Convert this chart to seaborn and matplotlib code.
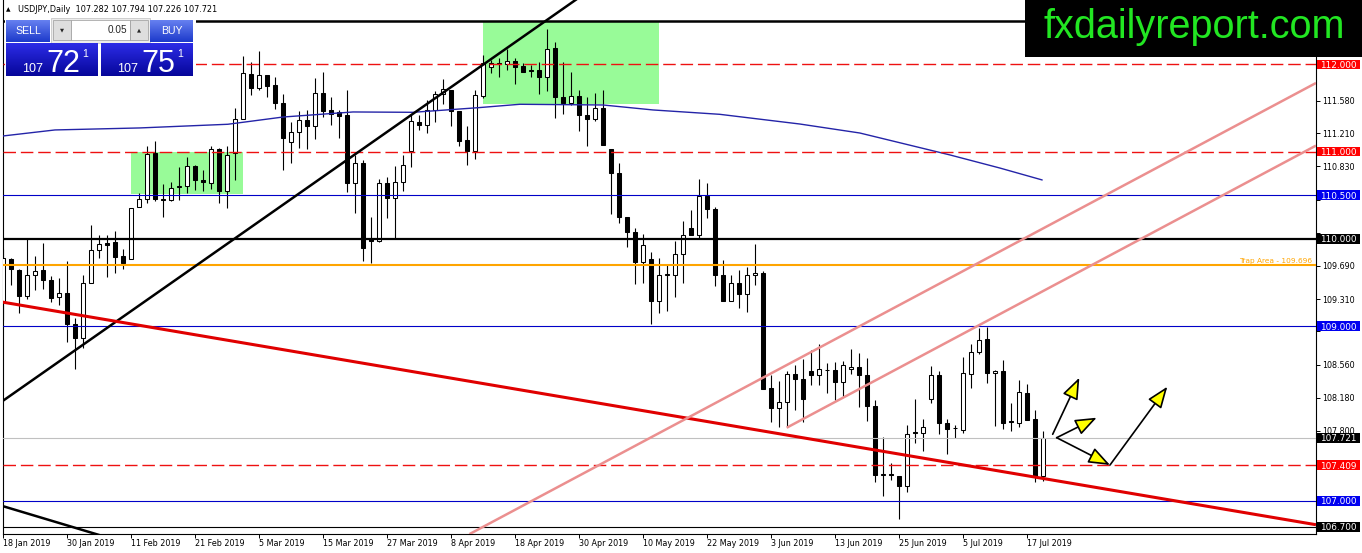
import numpy as np
import pandas as pd
import matplotlib
matplotlib.use("Agg")
import matplotlib.pyplot as plt
import seaborn as sns
from matplotlib.patches import Rectangle
from matplotlib.transforms import blended_transform_factory
from matplotlib.colors import to_rgb

# ---------------- data ----------------
opens = [109.28, 109.77, 109.645, 109.35, 109.59, 109.64, 109.53, 109.34, 109.38, 109.03,
         108.87, 109.49, 109.87, 109.95, 109.97, 109.80, 109.77, 110.36, 110.46, 110.98,
         110.46, 110.44, 110.59, 110.61, 110.84, 110.68, 110.64, 111.03, 110.55, 110.98,
         111.37, 111.89, 111.73, 111.88, 111.76, 111.56, 111.11, 111.22, 111.36, 111.29,
         111.67, 111.48, 111.45, 111.42, 110.64, 110.87, 110.01, 109.98, 110.64, 110.47,
         110.65, 111.01, 111.34, 111.31, 111.48, 111.66, 111.71, 111.47, 111.13, 111.01,
         111.64, 111.97, 112.01, 112.00, 112.04, 111.98, 111.93, 111.93, 111.85, 112.19,
         111.62, 111.56, 111.64, 111.42, 111.37, 111.50, 111.03, 110.76, 110.25, 110.08,
         109.73, 109.77, 109.29, 109.59, 109.59, 109.83, 110.13, 110.05, 110.49, 110.34,
         109.59, 109.29, 109.50, 109.37, 109.59, 109.61, 108.29, 108.06, 108.13, 108.45,
         108.39, 108.49, 108.44, 108.50, 108.50, 108.36, 108.51, 108.53, 108.44, 108.09,
         107.30, 107.30, 107.28, 107.17, 107.78, 107.78, 108.17, 108.44, 107.89, 107.83,
         107.81, 108.45, 108.71, 108.85, 108.46, 108.49, 107.91, 107.89, 108.23, 107.94,
         107.282]
highs = [109.89, 109.78, 109.66, 110.00, 109.80, 109.95, 109.57, 109.55, 109.75, 109.09,
         109.59, 110.16, 110.05, 110.05, 110.09, 109.88, 110.35, 110.53, 111.06, 111.12,
         110.63, 110.65, 110.82, 110.94, 110.85, 110.79, 111.06, 111.04, 111.06, 111.50,
         112.09, 112.03, 112.15, 111.88, 111.86, 111.66, 111.34, 111.46, 111.48, 111.84,
         111.91, 111.63, 111.48, 111.71, 110.96, 110.90, 110.25, 110.69, 110.71, 110.84,
         110.96, 111.43, 111.42, 111.59, 111.69, 111.83, 111.71, 111.47, 111.29, 111.71,
         112.11, 112.05, 112.07, 112.18, 112.07, 112.01, 111.99, 112.03, 112.41, 112.26,
         112.03, 111.91, 111.71, 111.63, 111.67, 111.71, 111.03, 110.87, 110.25, 110.12,
         110.06, 109.85, 109.78, 109.71, 109.98, 110.20, 110.33, 110.69, 110.64, 110.37,
         109.76, 109.59, 109.64, 109.68, 109.94, 109.63, 108.44, 108.37, 108.49, 108.56,
         108.62, 108.73, 108.80, 108.58, 108.59, 108.60, 108.74, 108.69, 108.63, 108.15,
         107.73, 107.43, 107.28, 107.87, 108.17, 107.94, 108.54, 108.49, 107.94, 107.87,
         108.65, 108.80, 108.98, 108.99, 108.50, 108.61, 108.12, 108.38, 108.34, 108.04,
         107.794]
lows = [109.07, 109.47, 109.15, 109.31, 109.42, 109.43, 109.28, 109.24, 108.82, 108.51,
        108.75, 109.49, 109.78, 109.56, 109.61, 109.66, 109.77, 110.36, 110.41, 110.43,
        110.25, 110.43, 110.45, 110.53, 110.56, 110.55, 110.57, 110.41, 110.35, 110.67,
        111.37, 111.65, 111.71, 111.62, 111.49, 110.79, 110.87, 111.04, 111.03, 111.15,
        111.40, 111.30, 111.16, 110.54, 110.30, 109.75, 109.72, 109.97, 110.24, 110.01,
        110.55, 110.82, 111.25, 111.21, 111.34, 111.55, 111.29, 111.06, 110.85, 110.92,
        111.61, 111.90, 111.85, 111.93, 111.77, 111.91, 111.85, 111.66, 111.69, 111.39,
        111.43, 111.53, 111.24, 111.06, 111.35, 111.08, 110.29, 110.18, 109.91, 109.48,
        109.49, 109.03, 109.15, 109.17, 109.34, 109.49, 110.04, 110.01, 110.24, 109.46,
        109.29, 109.29, 109.21, 109.16, 109.47, 108.28, 107.90, 107.85, 107.84, 108.04,
        107.90, 108.33, 108.33, 108.23, 108.15, 108.19, 108.45, 108.07, 107.91, 107.22,
        107.06, 107.24, 106.79, 107.10, 107.66, 107.57, 108.12, 107.77, 107.54, 107.72,
        107.78, 108.29, 108.68, 108.35, 107.86, 107.82, 107.80, 107.85, 107.93, 107.22,
        107.226]
closes = [109.78, 109.65, 109.35, 109.59, 109.63, 109.53, 109.32, 109.38, 109.03, 108.87,
          109.49, 109.875, 109.94, 109.93, 109.79, 109.72, 110.35, 110.46, 110.97, 110.46,
          110.44, 110.58, 110.61, 110.83, 110.68, 110.65, 111.03, 110.55, 110.96, 111.37,
          111.90, 111.73, 111.88, 111.75, 111.56, 111.16, 111.23, 111.36, 111.29, 111.67,
          111.47, 111.43, 111.41, 110.64, 110.87, 109.90, 109.98, 110.64, 110.47, 110.65,
          110.85, 111.35, 111.31, 111.48, 111.66, 111.72, 111.47, 111.12, 111.01, 111.65,
          112.02, 112.01, 112.00, 112.04, 111.97, 111.91, 111.92, 111.85, 112.18, 111.62,
          111.56, 111.64, 111.42, 111.37, 111.50, 111.08, 110.76, 110.25, 110.08, 109.74,
          109.93, 109.29, 109.59, 109.60, 109.83, 110.05, 110.05, 110.49, 110.34, 109.59,
          109.29, 109.49, 109.37, 109.59, 109.61, 108.28, 108.06, 108.13, 108.45, 108.39,
          108.17, 108.44, 108.51, 108.50, 108.36, 108.55, 108.53, 108.44, 108.09, 107.30,
          107.31, 107.30, 107.17, 107.77, 107.78, 107.85, 108.44, 107.89, 107.82, 107.83,
          108.46, 108.71, 108.84, 108.46, 108.49, 107.89, 107.90, 108.25, 107.93, 107.28,
          107.721]

# moving average (read at a few bars)
ma_bars = [0, 6.5, 17.1, 28.1, 35.0, 43.75, 51.25, 59.4, 64.6, 75.0, 81.25, 89.6,
           99.6, 107.1, 118.4, 124.6, 129.9]
ma_vals = [111.179, 111.248, 111.271, 111.313, 111.396, 111.454, 111.450, 111.503,
           111.542, 111.534, 111.477, 111.427, 111.316, 111.213, 110.961, 110.812, 110.675]

x_tick_bars = list(range(0, 129, 8))
x_tick_labels = ['18 Jan 2019', '30 Jan 2019', '11 Feb 2019', '21 Feb 2019', '5 Mar 2019',
                 '15 Mar 2019', '27 Mar 2019', '8 Apr 2019', '18 Apr 2019', '30 Apr 2019',
                 '10 May 2019', '22 May 2019', '3 Jun 2019', '13 Jun 2019', '25 Jun 2019',
                 '5 Jul 2019', '17 Jul 2019']
y_ticks = [111.960, 111.580, 111.210, 110.830, 110.450, 110.070, 109.690, 109.310,
           108.940, 108.560, 108.180, 107.800, 107.420, 107.040, 106.670]

# horizontal levels: price, colour, width, style
levels = [112.5, 112.0, 111.0, 110.5, 110.0, 109.696, 109.0, 107.721, 107.409, 107.0, 106.7]
level_colors = ['black', '#ee1111', '#ee1111', '#0000c8', 'black', '#ffa500', '#0000c8',
                '#c0c0c0', '#ee1111', '#0000c8', 'black']
level_widths = [1.8, 1.0, 1.0, 0.8, 1.6, 1.5, 0.8, 0.8, 1.0, 0.8, 0.8]
level_styles = ['-', 'd', 'd', '-', '-', '-', '-', '-', 'd', '-', '-']

box_levels = [112.0, 111.0, 110.5, 110.0, 109.0, 107.721, 107.409, 107.0, 106.7]
box_colors = ['#ff0000', '#ff0000', '#0000f0', 'black', '#0000f0', 'black', '#ff0000',
              '#0000f0', 'black']

zones = [(16.0, 29.96, 110.51, 110.99), (59.96, 82.0, 111.545, 112.496)]

trend_lines = [  # (bar0, price0, bar1, price1, colour, width)
    (-0.0625, 108.142, 75.0, 112.957, 'black', 1.8),
    (-0.0625, 106.940, 14.0, 106.554, 'black', 1.8),
    (-0.0625, 109.276, 164.125, 106.726, '#e00000', 2.2),
    (58.3, 106.618, 164.125, 111.786, '#eb8f8f', 1.8),
    (97.96, 107.837, 164.125, 111.069, '#eb8f8f', 1.8),
]

arrows = [  # (bar0, price0, bar1, price1)
    (131.21, 107.762, 134.54, 108.410),
    (131.71, 107.723, 136.71, 107.952),
    (131.71, 107.723, 138.375, 107.410),
    (138.375, 107.410, 145.54, 108.307),
]

bid, ask = 107.721, 107.751

# ---------------- figure ----------------
sns.set_style("white")
plt.rcParams['font.family'] = ['DejaVu Sans']

fig = plt.figure(figsize=(13.62, 5.53), dpi=100)
fig.patch.set_facecolor('white')
ax = fig.add_axes([2.5 / 1362, 19 / 553, 1313.5 / 1362, 534 / 553])
ax.set_xlim(-0.0625, 164.125)
ax.set_ylim(106.6197, 112.7365)
ax.set_facecolor('white')

for x0, x1, y0, y1 in zones:
    ax.add_patch(Rectangle((x0, y0), x1 - x0, y1 - y0, fc='#98fb98', ec='none', zorder=1))

df = pd.DataFrame({'o': opens, 'h': highs, 'l': lows, 'c': closes})
df['bar'] = np.arange(len(df))
up = df['c'] > df['o']
bottom = np.minimum(df['o'], df['c'])
height = np.maximum(np.abs(df['c'] - df['o']), 0.003)
ax.vlines(df['bar'], df['l'], df['h'], color='black', lw=0.8, zorder=3)
ax.bar(df['bar'], height, bottom=bottom, width=0.56,
       color=np.where(up, 'white', 'black'), edgecolor='black', linewidth=0.75, zorder=3.5)

sns.lineplot(x=ma_bars, y=ma_vals, ax=ax, color='#2424a8', lw=1.0, zorder=4,
             sort=False, estimator=None)

for p, c, w, s in zip(levels, level_colors, level_widths, level_styles):
    ls = (0, (9, 3.5)) if s == 'd' else '-'
    ax.axhline(p, color=c, lw=w, ls=ls, zorder=4.5)

for b0, p0, b1, p1, c, w in trend_lines:
    ax.plot([b0, b1], [p0, p1], color=c, lw=w, zorder=5, solid_capstyle='butt')

for b0, p0, b1, p1 in arrows:
    ax.annotate('', xy=(b1, p1), xytext=(b0, p0),
                arrowprops=dict(arrowstyle='-|>,head_length=1.1,head_width=0.42',
                                mutation_scale=12, fc='#ffff00', ec='black', lw=1.2,
                                shrinkA=0, shrinkB=0), zorder=6)

ax.text(163.6, 109.696 + 0.02, 'Trap Area - 109.696', color='#ffa500', fontsize=5.3,
        ha='right', va='bottom', zorder=6)

# axes / ticks
ax.spines['top'].set_visible(False)
for side in ['left', 'right', 'bottom']:
    ax.spines[side].set_color('black')
    ax.spines[side].set_linewidth(0.8)
ax.yaxis.tick_right()
ax.set_yticks(y_ticks)
# labels that sit (almost) fully under a coloured price box are hidden, as in the reference
ylabels = []
for v in y_ticks:
    hidden = any(abs(v - b) < 0.075 for b in box_levels)
    ylabels.append('' if hidden else f'{v:.3f}')
ax.set_yticklabels(ylabels)
ax.tick_params(axis='y', which='both', right=True, left=False, direction='out',
               length=2.9, width=0.7, pad=1.6, labelsize=5.8, colors='black')
ax.set_xticks(x_tick_bars)
ax.set_xticklabels(x_tick_labels)
ax.tick_params(axis='x', bottom=True, direction='out', length=2.9, width=0.7, pad=1.0,
               labelsize=5.8, colors='black')
for lab in ax.get_xticklabels():
    lab.set_horizontalalignment('left')
ax.set_xlabel('')
ax.set_ylabel('')

trans = blended_transform_factory(ax.transAxes, ax.transData)
for p, bg in zip(box_levels, box_colors):
    ax.add_patch(Rectangle((1.00114, p - 0.0545), 0.03236, 0.109, transform=trans, fc=bg,
                           ec='none', clip_on=False, zorder=20))
    ax.text(1.0028, p, f'{p:.3f}', transform=trans, color='white', fontsize=6.4,
            va='center_baseline', ha='left', clip_on=False, zorder=21)

# ---------------- overlay (pixel coordinates) ----------------
ov = fig.add_axes([0, 0, 1, 1], zorder=10)
ov.patch.set_alpha(0)
ov.axis('off')


def grad_box(x0, y0, x1, y1, c_top, c_bot):
    g = np.linspace(0, 1, 32)[:, None, None]
    ct = np.array(to_rgb(c_top))[None, None, :]
    cb = np.array(to_rgb(c_bot))[None, None, :]
    img = ct * (1 - g) + cb * g
    img = np.repeat(img, 2, axis=1)
    ov.imshow(img, extent=[x0, x1, y1, y0], aspect='auto', interpolation='bilinear', zorder=3)


title = f'USDJPY,Daily  {opens[-1]:.3f} {highs[-1]:.3f} {lows[-1]:.3f} {closes[-1]:.3f}'
ov.text(6, 10, '\u25b2', fontsize=4.2, va='center', ha='left', color='black')
ov.text(18, 10, title, fontsize=5.9, va='center', ha='left', color='black')

ov.add_patch(Rectangle((5, 17), 191, 61, fc='white', ec='none', zorder=2))
ov.add_patch(Rectangle((51, 18), 99, 25, fc='#ececec', ec='#c8c8c8', lw=0.6, zorder=2.5))
ov.add_patch(Rectangle((53, 20), 18, 20, fc='#dedede', ec='#9a9a9a', lw=0.5, zorder=3))
ov.add_patch(Rectangle((71, 20), 59, 20, fc='white', ec='#9a9a9a', lw=0.5, zorder=3))
ov.add_patch(Rectangle((130, 20), 18, 20, fc='#dedede', ec='#9a9a9a', lw=0.5, zorder=3))
ov.text(62, 30, '\u25bc', fontsize=3.8, ha='center', va='center', zorder=4)
ov.text(139, 30, '\u25b2', fontsize=3.8, ha='center', va='center', zorder=4)
ov.text(127, 30, '0.05', fontsize=7.2, ha='right', va='center', zorder=4,
        family=['Liberation Sans', 'DejaVu Sans'])

grad_box(6, 20, 50, 42, '#6680f0', '#1d3acb')
grad_box(150, 20, 193, 42, '#6680f0', '#1d3acb')
grad_box(6, 43, 98, 76, '#2c2ce6', '#06069a')
grad_box(101, 43, 193, 76, '#2c2ce6', '#06069a')
ov.text(28, 31.5, 'SELL', fontsize=7.6, color='white', ha='center', va='center', zorder=4,
        family=['Liberation Sans', 'DejaVu Sans'])
ov.text(171.5, 31.5, 'BUY', fontsize=7.6, color='white', ha='center', va='center', zorder=4,
        family=['Liberation Sans', 'DejaVu Sans'])

for px, price in [(0, bid), (95, ask)]:
    s = f'{price:.3f}'
    big, pip = s.split('.')[1][:2], s.split('.')[1][2]
    ov.text(22 + px, 72, s.split('.')[0], fontsize=9, color='white', va='baseline',
            ha='left', zorder=4, family=['Liberation Sans', 'DejaVu Sans'])
    ov.text(46 + px, 72, big, fontsize=22, color='white', va='baseline', ha='left',
            zorder=4, family=['Liberation Sans', 'DejaVu Sans'])
    ov.text(82 + px, 57, pip, fontsize=7.5, color='white', va='baseline', ha='left',
            zorder=4, family=['Liberation Sans', 'DejaVu Sans'])

ov.add_patch(Rectangle((1025, 0), 337, 57, fc='black', ec='none', zorder=2))
ov.text(1194, 27, 'fxdailyreport.com', color='#22e622', fontsize=28.5, ha='center',
        va='center', zorder=4, family=['Liberation Sans', 'DejaVu Sans'])

ov.set_xlim(0, 1362)
ov.set_ylim(553, 0)

fig.savefig('out.png', dpi=100, facecolor='white')
